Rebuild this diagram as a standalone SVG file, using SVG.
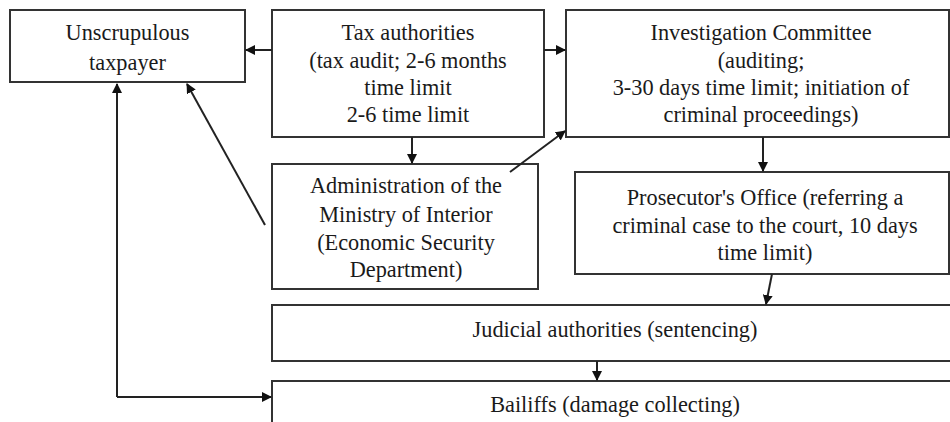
<svg xmlns="http://www.w3.org/2000/svg" width="950" height="422" viewBox="0 0 950 422">
<style>
.box{fill:#fff;stroke:#333;stroke-width:2}
.t{font-family:"Liberation Serif","Times New Roman",serif;font-size:22.3px;fill:#1a1a1a;text-anchor:middle}
.c{stroke:#222;stroke-width:2;fill:none}
</style>
<defs>
<marker id="ah" markerWidth="10" markerHeight="10" refX="9" refY="5" orient="auto" markerUnits="userSpaceOnUse">
<path d="M0,0 L10,5 L0,10 Z" fill="#111"/>
</marker>
</defs>
<rect width="950" height="422" fill="#fff"/>
<g id="taxpayer">
<rect class="box" x="10" y="10" width="235" height="72"/>
<text class="t" x="127.5" y="40">Unscrupulous</text>
<text class="t" x="127.5" y="70">taxpayer</text>
</g>
<g id="tax">
<rect class="box" x="272" y="10" width="272" height="127"/>
<text class="t" x="408" y="40">Tax authorities</text>
<text class="t" x="408" y="68">(tax audit; 2-6 months</text>
<text class="t" x="408" y="95">time limit</text>
<text class="t" x="408" y="122">2-6 time limit</text>
</g>
<g id="investigation">
<rect class="box" x="566" y="10" width="383" height="127"/>
<text class="t" x="761" y="40">Investigation Committee</text>
<text class="t" x="761" y="68">(auditing;</text>
<text class="t" x="761" y="95">3-30 days time limit; initiation of</text>
<text class="t" x="761" y="122">criminal proceedings)</text>
</g>
<g id="ministry">
<rect class="box" x="272" y="164" width="266" height="125"/>
<text class="t" x="406" y="193">Administration of the</text>
<text class="t" x="406" y="222">Ministry of Interior</text>
<text class="t" x="406" y="250">(Economic Security</text>
<text class="t" x="406" y="277">Department)</text>
</g>
<g id="prosecutor">
<rect class="box" x="575" y="172" width="374" height="102"/>
<text class="t" x="765" y="205">Prosecutor's Office (referring a</text>
<text class="t" x="765" y="233">criminal case to the court, 10 days</text>
<text class="t" x="765" y="260">time limit)</text>
</g>
<g id="judicial">
<rect class="box" x="272" y="305" width="690" height="56"/>
<text class="t" x="615" y="337">Judicial authorities (sentencing)</text>
</g>
<g id="bailiffs">
<rect class="box" x="272" y="381" width="690" height="60"/>
<text class="t" x="615" y="412">Bailiffs (damage collecting)</text>
</g>
<g id="connectors">
<line class="c" x1="272" y1="50" x2="246" y2="50" marker-end="url(#ah)"/>
<line class="c" x1="544" y1="50" x2="565" y2="50" marker-end="url(#ah)"/>
<line class="c" x1="412" y1="137" x2="412" y2="163" marker-end="url(#ah)"/>
<line class="c" x1="510" y1="172" x2="565" y2="131" marker-end="url(#ah)"/>
<line class="c" x1="265" y1="225" x2="187" y2="84" marker-end="url(#ah)"/>
<line class="c" x1="763" y1="137" x2="763" y2="171" marker-end="url(#ah)"/>
<line class="c" x1="772" y1="274" x2="766" y2="304" marker-end="url(#ah)"/>
<line class="c" x1="597" y1="361" x2="597" y2="380" marker-end="url(#ah)"/>
<polyline class="c" points="117,397 117,84" marker-end="url(#ah)"/>
<polyline class="c" points="117,397 271,397" marker-end="url(#ah)"/>
</g>
</svg>
